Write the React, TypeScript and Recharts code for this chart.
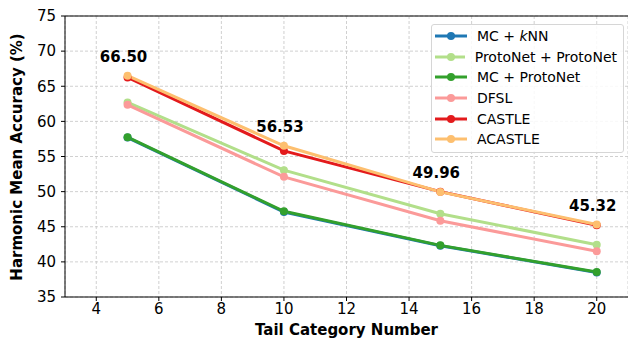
import React from "react"
import {
  LineChart,
  Line,
  XAxis,
  YAxis,
  CartesianGrid,
  LabelList,
  Label,
  ReferenceLine,
} from "recharts"

const tailCounts = [5, 10, 15, 20]
const mcKnn = [57.7, 47.1, 42.3, 38.5]
const protoProto = [62.7, 53.05, 46.85, 42.45]
const mcProto = [57.75, 47.2, 42.35, 38.55]
const dfsl = [62.35, 52.1, 45.85, 41.5]
const castle = [66.25, 55.8, 50.0, 45.2]
const acastle = [66.5, 56.53, 49.96, 45.32]

const xTicks = [4, 6, 8, 10, 12, 14, 16, 18, 20]
const yTicks = [35, 40, 45, 50, 55, 60, 65, 70, 75]

const series = [
  { key: "mcKnn", name: "MC + kNN", color: "#1f78b4", values: mcKnn },
  { key: "protoProto", name: "ProtoNet + ProtoNet", color: "#b2df8a", values: protoProto },
  { key: "mcProto", name: "MC + ProtoNet", color: "#33a02c", values: mcProto },
  { key: "dfsl", name: "DFSL", color: "#fb9a99", values: dfsl },
  { key: "castle", name: "CASTLE", color: "#e31a1c", values: castle },
  { key: "acastle", name: "ACASTLE", color: "#fdbf6f", values: acastle },
]

const data = tailCounts.map((n, i) => {
  const row: Record<string, number> = { n }
  series.forEach((s) => (row[s.key] = s.values[i]))
  return row
})

const font = "'DejaVu Sans', sans-serif"

function renderName(name: string) {
  if (name === "MC + kNN") {
    return (
      <>
        MC + <i>k</i>NN
      </>
    )
  }
  return name
}

function LegendBox() {
  return (
    <div
      style={{
        position: "absolute",
        left: 431,
        top: 24,
        width: 182,
        background: "rgba(255,255,255,0.85)",
        border: "1px solid #d6d6d6",
        borderRadius: 3,
        padding: "1px 6px 2px 3px",
        fontFamily: font,
        fontSize: 14,
        color: "#000",
      }}
    >
      {series.map((s) => (
        <div key={s.key} style={{ display: "flex", alignItems: "center", height: 20.6, whiteSpace: "nowrap" }}>
          <svg width={32} height={10} style={{ marginRight: 10 }}>
            <line x1={0} y1={5} x2={32} y2={5} stroke={s.color} strokeWidth={3} />
            <circle cx={16} cy={5} r={4} fill={s.color} />
          </svg>
          <span>{renderName(s.name)}</span>
        </div>
      ))}
    </div>
  )
}

function PeakLabel(props: any) {
  const { x, y, value } = props
  return (
    <text
      x={x - 4}
      y={y - 19}
      textAnchor="middle"
      dominantBaseline="central"
      fontFamily={font}
      fontWeight="bold"
      fontSize={15}
      fill="#000"
    >
      {Number(value).toFixed(2)}
    </text>
  )
}

export default function App() {
  return (
    <div style={{ position: "relative", width: 628, height: 339, background: "#fff" }}>
      <style>{"body{margin:0}"}</style>
      <LineChart
        width={628}
        height={339}
        data={data}
        margin={{ top: 16, right: 0, bottom: 0, left: 0 }}
      >
        <CartesianGrid stroke="#c4c4c4" strokeDasharray="3 2" strokeWidth={0.8} />
        <XAxis
          dataKey="n"
          type="number"
          domain={[3, 21]}
          ticks={xTicks}
          height={42}
          tickSize={4}
          tickMargin={2}
          stroke="#000"
          tick={{ fill: "#000", fontSize: 15, fontFamily: font }}
          allowDataOverflow
        >
          <Label
            value="Tail Category Number"
            position="insideBottom"
            offset={4}
            style={{ fontFamily: font, fontSize: 15, fontWeight: "bold", fill: "#000" }}
          />
        </XAxis>
        <YAxis
          type="number"
          domain={[35, 75]}
          ticks={yTicks}
          width={65}
          tickSize={4}
          tickMargin={5}
          stroke="#000"
          tick={{ fill: "#000", fontSize: 15, fontFamily: font }}
          allowDataOverflow
        >
          <Label
            content={() => (
              <text
                transform="translate(17,157) rotate(-90)"
                textAnchor="middle"
                dominantBaseline="central"
                fontFamily={font}
                fontSize={15}
                fontWeight="bold"
                fill="#000"
              >
                Harmonic Mean Accuracy (%)
              </text>
            )}
          />
        </YAxis>
        <ReferenceLine y={75} stroke="#000" strokeWidth={1} />
        {series.map((s) => (
          <Line
            key={s.key}
            dataKey={s.key}
            name={s.name}
            stroke={s.color}
            strokeWidth={3}
            dot={{ r: 4, fill: s.color, stroke: s.color, strokeWidth: 0 }}
            activeDot={false}
            isAnimationActive={false}
          >
            {s.key === "acastle" ? <LabelList dataKey={s.key} content={PeakLabel} /> : null}
          </Line>
        ))}
      </LineChart>
      <LegendBox />
    </div>
  )
}
